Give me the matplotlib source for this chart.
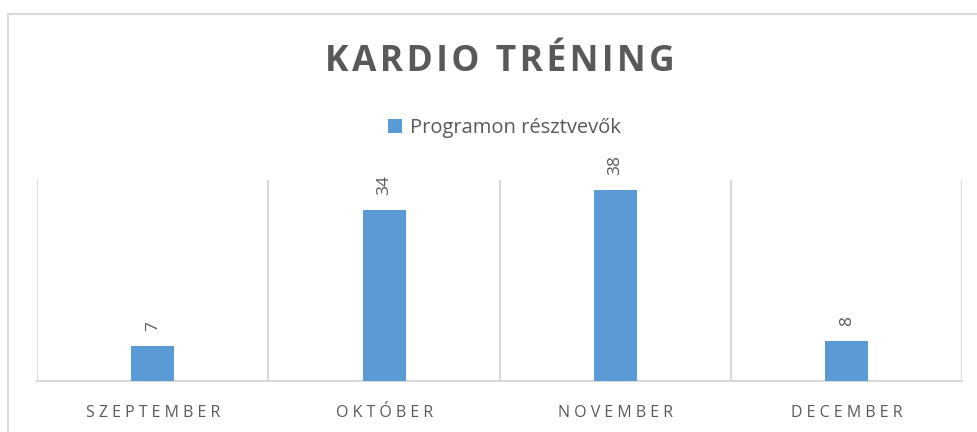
import matplotlib
matplotlib.use('Agg')
import matplotlib.pyplot as plt
from matplotlib.patches import Rectangle

plt.rcParams['font.family'] = ['Open Sans', 'DejaVu Sans']

# adatok
honapok = ['SZEPTEMBER', 'OKTÓBER', 'NOVEMBER', 'DECEMBER']
resztvevok = [7, 34, 38, 8]
sorozat_nev = 'Programon résztvevők'
cim = 'KARDIO TRÉNING'

kek = '#5B9BD5'
szurke = '#595959'
racs = '#D9D9D9'

fig = plt.figure(figsize=(9.77, 4.32), dpi=100)
ax = fig.add_axes([0.038, 0.118, 0.947, 0.465])

x = list(range(len(honapok)))
bars = ax.bar(x, resztvevok, width=0.186, color=kek, label=sorozat_nev, zorder=3)

# adatcímkék
for xi, v in zip(x, resztvevok):
    ax.annotate(str(v), (xi, v), xytext=(0, 11), textcoords='offset points',
                ha='center', va='bottom', rotation=90, fontsize=12.5, color=szurke)

ax.set_xlim(-0.5, len(honapok) - 0.5)
ax.set_ylim(0, 40)
ax.set_xticks(x)
ax.set_xticklabels([' '.join(h) for h in honapok], fontsize=11.5, color=szurke)
ax.tick_params(axis='x', length=0, pad=17)
ax.set_yticks([])

# függőleges rácsvonalak a kategóriák között
ax.set_xticks([i - 0.5 for i in range(len(honapok) + 1)], minor=True)
ax.tick_params(axis='x', which='minor', length=0)
ax.grid(axis='x', which='minor', color=racs, linewidth=1.5, zorder=0)
ax.grid(axis='x', which='major', visible=False)

for s in ['top', 'right', 'left']:
    ax.spines[s].set_visible(False)
ax.spines['bottom'].set_color(racs)
ax.spines['bottom'].set_linewidth(1.5)

# ritkított betűközű cím
fig.text(0.512, 0.857, '\u200a'.join(cim), ha='center', va='center', fontsize=25.5,
         fontweight='bold', color=szurke)

fig.legend(handles=[bars], labels=[sorozat_nev], loc='center',
           bbox_to_anchor=(0.516, 0.704), frameon=False, fontsize=14.5,
           handlelength=0.7, handleheight=0.7, handletextpad=0.4,
           labelcolor=szurke)

# diagram kerete
fig.patches.append(Rectangle((8 / 977, -0.1), 1.1, 1.1 - 14 / 432,
                             transform=fig.transFigure, fill=False,
                             edgecolor=racs, linewidth=1.5))

fig.savefig('out.png', dpi=100)
